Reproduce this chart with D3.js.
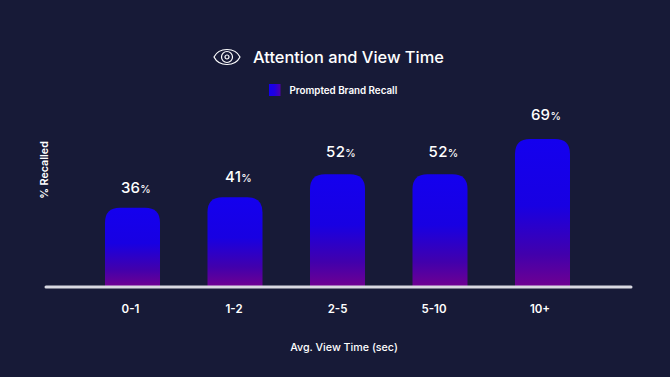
<!DOCTYPE html>
<html><head><meta charset="utf-8">
<script src="https://cdn.jsdelivr.net/npm/d3@7"></script>
<style>html,body{margin:0;padding:0;background:#171a37}svg{display:block}text{font-family:Inter,sans-serif;fill:#fff}</style>
</head><body><svg id="c" width="670" height="377"></svg>
<script>
const categories=["0-1","1-2","2-5","5-10","10+"];
const recalled=[36,41,52,52,69];
const titleText="Attention and View Time";
const legendText="Prompted Brand Recall";
const xTitle="Avg. View Time (sec)";
const yTitle="% Recalled";
const tickNudge=[-2,-1,0,-6,-2.5];
const svg=d3.select("#c");
const defs=svg.append("defs");
const g=defs.append("linearGradient").attr("id","bar").attr("x1",0).attr("y1",0).attr("x2",0).attr("y2",1);
[[0,"#1400ee"],[0.45,"#1800e2"],[0.78,"#4200ac"],[1,"#700090"]].forEach(s=>g.append("stop").attr("offset",s[0]).attr("stop-color",s[1]));
const lg=defs.append("linearGradient").attr("id","leg").attr("x1",0).attr("y1",0).attr("x2",1).attr("y2",0);
[[0,"#1400ee"],[0.5,"#2000e0"],[1,"#5000a8"]].forEach(s=>lg.append("stop").attr("offset",s[0]).attr("stop-color",s[1]));
const base=287;
const x=d3.scaleBand().domain(categories).range([105,570]).paddingInner(0.4634).paddingOuter(0);
const y=d3.scaleLinear().domain([0,69]).range([282.5,139]);
const labelY=d3.scaleLinear().domain([36,52,69]).range([193.4,156.5,120.4]);
const r=15;
svg.append("g").selectAll("path").data(categories).join("path")
 .attr("fill","url(#bar)")
 .attr("d",(c,i)=>{const l=x(c),w=x.bandwidth(),t=y(recalled[i]);
  const p=d3.path();p.moveTo(l,base);p.lineTo(l,t+r);p.quadraticCurveTo(l,t,l+r,t);p.lineTo(l+w-r,t);p.quadraticCurveTo(l+w,t,l+w,t+r);p.lineTo(l+w,base);p.closePath();return p.toString();});
const ax=svg.append("g").attr("transform",`translate(0,${base})`).call(d3.axisBottom(x).tickSize(0).tickPadding(18));
ax.select(".domain").remove();
ax.selectAll("text").attr("font-size",11.5).attr("font-weight",600).attr("dx",(d,i)=>tickNudge[i]).style("font-family","Inter,sans-serif").attr("fill","#fff");
svg.append("line").attr("x1",46).attr("x2",631).attr("y1",base).attr("y2",base).attr("stroke","#d9d9e2").attr("stroke-width",3).attr("stroke-linecap","round");
const lab=svg.append("g").selectAll("text").data(recalled).join("text")
 .attr("x",(d,i)=>x(categories[i])+x.bandwidth()/2+3.5).attr("y",d=>labelY(d)).attr("text-anchor","middle")
 .attr("font-size",15).attr("font-weight",500).attr("letter-spacing",0.3);
lab.append("tspan").text(d=>d);
lab.append("tspan").attr("font-size",10.5).text("%");
svg.append("text").attr("x",253).attr("y",63).attr("font-size",16.4).attr("font-weight",500).text(titleText);
const eye=svg.append("g").attr("transform","translate(227,57)").attr("fill","none").attr("stroke","#fff").attr("stroke-width",1.2);
eye.append("path").attr("d","M-13,0C-8,-10 8,-10 13,0C8,10 -8,10 -13,0Z");
eye.append("circle").attr("r",5.5);
eye.append("circle").attr("r",2);
svg.append("rect").attr("x",269).attr("y",84).attr("width",11.5).attr("height",12).attr("fill","url(#leg)");
svg.append("text").attr("x",289.5).attr("y",93.5).attr("font-size",9.8).attr("font-weight",600).text(legendText);
svg.append("text").attr("x",344).attr("y",350.5).attr("text-anchor","middle").attr("font-size",10.7).attr("font-weight",500).text(xTitle);
svg.append("text").attr("transform","translate(48,170) rotate(-90)").attr("text-anchor","middle").attr("font-size",10.7).attr("font-weight",600).text(yTitle);
</script></body></html>
